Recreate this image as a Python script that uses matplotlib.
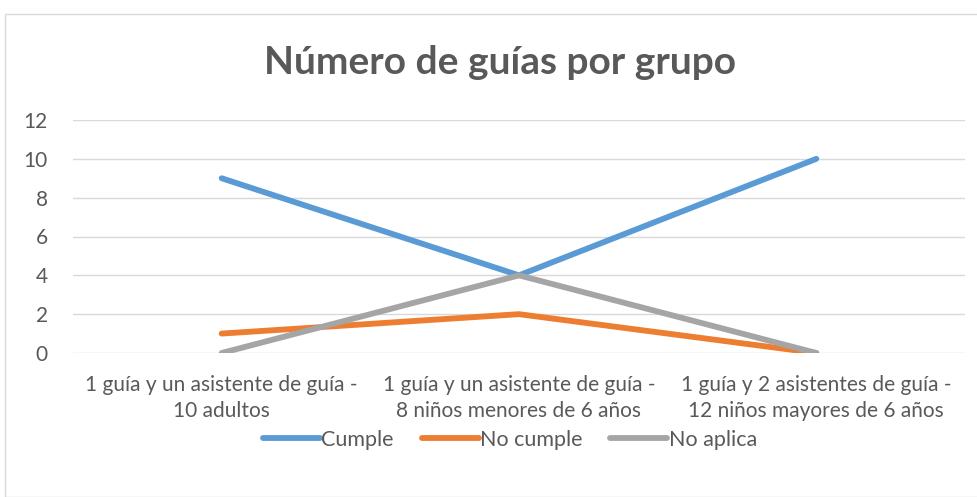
import matplotlib.pyplot as plt
from matplotlib.patches import Rectangle

# --- data ---
categorias = [
    "1 guía y un asistente de guía -\n10 adultos",
    "1 guía y un asistente de guía -\n8 niños menores de 6 años",
    "1 guía y 2 asistentes de guía -\n12 niños mayores de 6 años",
]
cumple = [9, 4, 10]
no_cumple = [1, 2, 0]
no_aplica = [0, 4, 0]

plt.rcParams['font.family'] = ['Lato', 'DejaVu Sans']
TXT = '#595959'

fig = plt.figure(figsize=(9.77, 4.97), dpi=100)
fig.patches.append(Rectangle((5 / 977, 0), 1, 1 - 14 / 497, transform=fig.transFigure,
                             fill=False, edgecolor='#D9D9D9', linewidth=1))

ax = fig.add_axes([73 / 977, 1 - 353 / 497, (965 - 73) / 977, (353 - 120) / 497])
x = range(len(categorias))
ax.plot(x, cumple, color='#5B9BD5', lw=4.2, solid_capstyle='round', label='Cumple', zorder=3)
ax.plot(x, no_cumple, color='#ED7D31', lw=4.2, solid_capstyle='round', label='No cumple', zorder=3)
ax.plot(x, no_aplica, color='#A5A5A5', lw=4.2, solid_capstyle='round', label='No aplica', zorder=3)

ax.set_xlim(-0.5, 2.5)
ax.set_ylim(0, 12)
ax.set_yticks(range(0, 13, 2))
ax.set_xticks(list(x))
ax.set_xticklabels(categorias, fontsize=15, color=TXT, linespacing=1.38)
ax.tick_params(axis='y', labelsize=15, labelcolor=TXT, length=0, pad=18)
ax.tick_params(axis='x', length=0, pad=16)
ax.grid(axis='y', color='#D9D9D9', lw=1)
ax.set_axisbelow(True)
for s in ax.spines.values():
    s.set_visible(False)

fig.text(0.512, 1 - 63 / 497, "Número de guías por grupo", ha='center', va='center',
         fontsize=28, fontweight='bold', color=TXT)

fig.legend(loc='center', bbox_to_anchor=(0.522, 1 - 440 / 497), ncol=3, frameon=False,
           fontsize=15.5, labelcolor=TXT, handlelength=2.65, handletextpad=0.05,
           columnspacing=1.3)

fig.savefig('out.png', dpi=100)
